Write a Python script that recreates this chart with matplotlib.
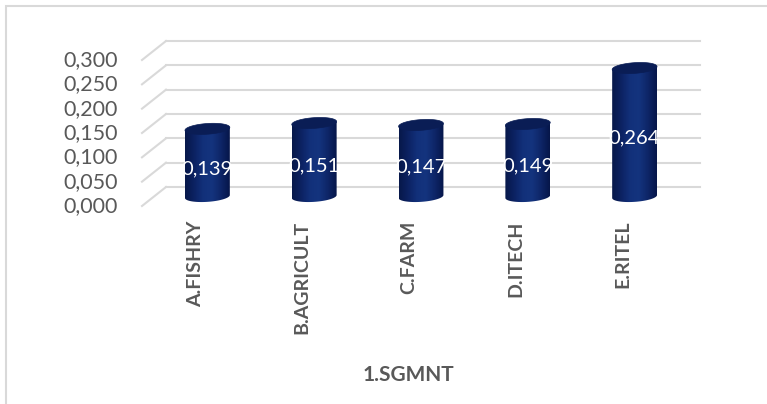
import numpy as np
import matplotlib.pyplot as plt
from matplotlib.patches import Polygon, Rectangle
from matplotlib.transforms import offset_copy
from matplotlib.colors import LinearSegmentedColormap

plt.rcParams['font.family'] = ['Lato', 'DejaVu Sans']

# data
segments = ["A.FISHRY", "B.AGRICULT", "C.FARM", "D.ITECH", "E.RITEL"]
values = [0.139, 0.151, 0.147, 0.149, 0.264]
y_ticks = [0.0, 0.05, 0.10, 0.15, 0.20, 0.25, 0.30]
x_title = "1.SGMNT"

W, H = 767, 404
fig = plt.figure(figsize=(W / 100, H / 100), dpi=100)

# chart frame (light gray, runs off the right and bottom)
fig.patches.append(Rectangle((6 / W, -0.1), 1.2, (H - 6) / H + 0.1, transform=fig.transFigure,
                             fill=False, edgecolor="#d9d9d9", lw=1.5))
# tail of a title cut off at the top
fig.text(228 / W, 1 + 4 / H, "g", fontsize=18, color="#404040", ha="center", va="baseline")

# axes = middle depth plane of the 3d box; a little room below zero for the cylinder bases
y_lo, y_hi = -0.03, 0.3
px_per_unit = 146 / 0.3
ax_h = (y_hi - y_lo) * px_per_unit
ax_bottom = 196.5 - y_lo * px_per_unit
ax = fig.add_axes([154 / W, 1 - ax_bottom / H, 534 / W, ax_h / H])
ax.set_xlim(-0.5, len(segments) - 0.5)
ax.set_ylim(y_lo, y_hi)
ax.axis("off")

dx, dy = 12, 9.5  # depth offset in pixels
back = offset_copy(ax.transData, fig, x=dx, y=dy, units="dots")
front = offset_copy(ax.transData, fig, x=-dx, y=-dy, units="dots")

grid_kw = dict(color="#d9d9d9", lw=1.5, clip_on=False, zorder=1)
x0, x1 = -0.5, len(segments) - 0.5
for t in y_ticks:
    ax.plot([x0, x1], [t, t], transform=back, **grid_kw)
    # diagonal side-wall line: front-left corner to back-left corner
    p_front = front.transform((x0, t))
    p_back = back.transform((x0, t))
    fig.lines.append(plt.Line2D([p_front[0] / W, p_back[0] / W], [p_front[1] / H, p_back[1] / H],
                                transform=fig.transFigure, **grid_kw))
    lab = f"{t:.3f}".replace(".", ",")
    ax.text(x0, t, lab, transform=offset_copy(front, fig, x=-24, y=0, units="dots"),
            ha="right", va="center", fontsize=15.5, color="#595959", clip_on=False)

# cylinders
cmap = LinearSegmentedColormap.from_list(
    "cyl", ["#07184a", "#0c2262", "#12307a", "#14347e", "#0e2668", "#06164a"])
grad = np.linspace(0, 1, 64)[None, :]
half_w = 0.21
ell_h = 0.011    # half-height of the end caps, in data units
tilt = 0.003     # right side of the caps a bit higher
t = np.linspace(0, 2 * np.pi, 120)
lower = np.linspace(np.pi, 2 * np.pi, 60)
upper = np.linspace(0, np.pi, 60)

for i, v in enumerate(values):
    xs = i + half_w * np.cos(t)
    # body: gradient clipped to side outline
    img = ax.imshow(grad, cmap=cmap, extent=[i - half_w, i + half_w, -2 * ell_h, v + ell_h],
                    aspect="auto", zorder=3, interpolation="bicubic")
    body = np.concatenate([
        np.column_stack([i + half_w * np.cos(lower), ell_h * np.sin(lower) + tilt * np.cos(lower)]),
        np.column_stack([i + half_w * np.cos(upper), v + tilt * np.cos(upper)]),
    ])
    clip = Polygon(body, closed=True, transform=ax.transData, facecolor="none", edgecolor="none")
    ax.add_patch(clip)
    img.set_clip_path(clip)
    # top cap
    cap = np.column_stack([xs, v + ell_h * np.sin(t) + tilt * np.cos(t)])
    ax.add_patch(Polygon(cap, closed=True, facecolor="#0a1d55", edgecolor="#0a1d55",
                         lw=0.5, zorder=4))
    # value label, white, clipped to the cylinder
    lbl = ax.text(i, v / 2, f"{v:.3f}".replace(".", ","),
                  transform=offset_copy(ax.transData, fig, x=0, y=-6, units="dots"),
                  ha="center", va="center", fontsize=14.5, color="white", zorder=5)
    lbl.set_clip_path(clip)

# category labels on the front plane
for i, name in enumerate(segments):
    ax.text(i, 0, name, transform=offset_copy(front, fig, x=0, y=-15, units="dots"),
            rotation=90, ha="center", va="top", fontsize=14, fontweight="bold",
            color="#595959", clip_on=False)

fig.text(408 / W, 1 - 375 / H, x_title, ha="center", va="center", fontsize=15,
         fontweight="bold", color="#595959")

fig.savefig("out.png", dpi=100)
